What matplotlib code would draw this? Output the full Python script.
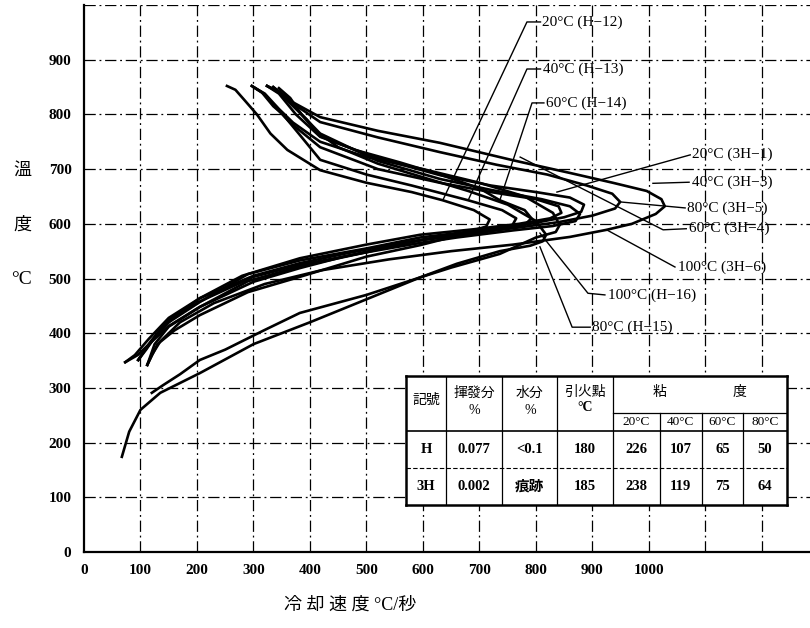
import numpy as np
import matplotlib.pyplot as plt

plt.rcParams['font.family'] = ['Liberation Serif', 'Noto Sans CJK JP']

# cooling curves: rate (°C/s) vs temperature (°C), from 850 °C through the nose back down
h12_rate = [253, 268, 285, 306, 330, 360, 418, 500, 580, 635, 690, 718, 712, 680, 620, 540, 460, 382, 300, 205, 150, 115, 95, 73]
h12_temp = [852, 845, 825, 800, 765, 735, 698, 675, 658, 643, 625, 608, 595, 585, 575, 558, 540, 519, 494, 448, 413, 380, 360, 347]

h13_rate = [297, 315, 335, 352, 380, 418, 500, 580, 680, 740, 765, 758, 720, 660, 595, 500, 382, 290, 205, 160, 130, 112]
h13_temp = [852, 840, 815, 800, 765, 717, 690, 670, 643, 625, 610, 597, 588, 578, 561, 540, 503, 475, 433, 405, 380, 342]

h14_rate = [324, 345, 370, 395, 418, 480, 560, 630, 700, 736, 780, 792, 780, 740, 680, 595, 500, 382, 300, 205, 150, 118, 96]
h14_temp = [852, 840, 815, 790, 760, 735, 712, 690, 665, 643, 625, 610, 598, 590, 580, 570, 548, 525, 503, 458, 425, 385, 351]

h15_rate = [345, 365, 385, 410, 450, 520, 600, 680, 750, 800, 818, 812, 790, 736, 660, 595, 500, 382, 318, 250, 205, 170, 140, 120]
h15_temp = [848, 830, 800, 770, 740, 710, 685, 660, 635, 605, 580, 568, 560, 550, 527, 502, 470, 437, 405, 370, 351, 325, 305, 291]

h16_rate = [300, 320, 345, 370, 418, 500, 600, 700, 780, 830, 842, 835, 800, 736, 650, 595, 500, 400, 300, 205, 135, 100, 80, 67]
h16_temp = [850, 838, 810, 785, 750, 722, 700, 675, 650, 620, 598, 585, 575, 545, 520, 502, 462, 420, 380, 327, 291, 260, 220, 174]

h3_1_rate = [297, 318, 340, 365, 418, 520, 630, 720, 800, 840, 845, 825, 770, 690, 595, 500, 382, 280, 205, 150, 115, 90, 73]
h3_1_temp = [852, 838, 812, 785, 740, 700, 675, 658, 645, 632, 620, 610, 600, 590, 580, 562, 537, 505, 464, 428, 390, 360, 347]

h3_3_rate = [324, 345, 375, 418, 520, 630, 720, 800, 860, 885, 880, 850, 790, 700, 595, 500, 382, 290, 205, 150, 120, 105, 96]
h3_3_temp = [852, 838, 800, 759, 720, 689, 670, 658, 648, 635, 622, 612, 600, 588, 575, 555, 533, 508, 457, 420, 385, 365, 351]

h3_4_rate = [335, 360, 385, 418, 520, 630, 720, 810, 860, 878, 870, 830, 760, 660, 595, 500, 382, 290, 205, 150, 125, 112]
h3_4_temp = [850, 830, 800, 765, 715, 682, 662, 645, 632, 618, 605, 596, 588, 575, 565, 548, 522, 495, 448, 412, 380, 342]

h3_5_rate = [335, 370, 418, 520, 630, 730, 820, 890, 935, 949, 940, 900, 840, 760, 660, 560, 460, 382, 300, 205, 160, 130, 110, 96]
h3_5_temp = [850, 820, 786, 758, 731, 708, 690, 670, 655, 640, 628, 615, 603, 592, 580, 565, 545, 528, 505, 464, 430, 400, 370, 351]

h3_6_rate = [324, 345, 370, 418, 520, 630, 760, 860, 936, 996, 1022, 1028, 1012, 970, 925, 860, 760, 650, 540, 420, 320, 230, 170, 135, 120, 112]
h3_6_temp = [852, 842, 822, 795, 770, 748, 716, 693, 675, 660, 645, 632, 618, 600, 589, 576, 562, 550, 535, 515, 490, 455, 420, 385, 360, 342]

curves_rate = [h12_rate, h13_rate, h14_rate, h15_rate, h16_rate,
               h3_1_rate, h3_3_rate, h3_4_rate, h3_5_rate, h3_6_rate]
curves_temp = [h12_temp, h13_temp, h14_temp, h15_temp, h16_temp,
               h3_1_temp, h3_3_temp, h3_4_temp, h3_5_temp, h3_6_temp]

# curve labels with leader lines (label anchor, then leader path)
labels = ['20°C (H−12)', '40°C (H−13)', '60°C (H−14)',
          '20°C (3H−1)', '40°C (3H−3)', '80°C (3H−5)', '60°C (3H−4)', '100°C (3H−6)',
          '100°C (H−16)', '80°C (H−15)']
label_pos = [(810, 969), (812, 883), (818, 821),
             (1076, 728), (1076, 676), (1068, 629), (1071, 591), (1052, 521),
             (928, 470), (900, 411)]
leader_x = [[808, 784, 635], [808, 784, 680], [814, 793, 736],
            [1073, 837], [1071, 1007], [1064, 949], [1066, 1025, 772], [1046, 925],
            [922, 892, 807], [896, 864, 807]]
leader_y = [[969, 969, 643], [883, 883, 643], [821, 821, 643],
            [726, 658], [676, 674], [629, 640], [591, 589, 722], [521, 589],
            [470, 473, 583], [411, 411, 558]]

# property table
table_marks = ['H', '3H']
volatile = ['0.077', '0.002']
water = ['<0.1', '痕跡']
flash = ['180', '185']
visc_temps = ['20°C', '40°C', '60°C', '80°C']
visc_h = ['226', '107', '65', '50']
visc_3h = ['238', '119', '75', '64']

fig = plt.figure(figsize=(8.1, 6.28), dpi=100)
ax = fig.add_axes([84 / 810, 1 - 552 / 628, 1 - 84 / 810, 547 / 628])
ax.set_xlim(0, 1285)
ax.set_ylim(0, 1000)

grid_ls = (0, (9, 3, 1.5, 3))
for gx in range(100, 1300, 100):
    ax.axvline(gx, color='black', lw=0.9, ls=grid_ls, zorder=1)
for gy in range(100, 1001, 100):
    ax.axhline(gy, color='black', lw=0.9, ls=grid_ls, zorder=1)

for r, t in zip(curves_rate, curves_temp):
    ax.plot(r, t, color='black', lw=1.9, solid_joinstyle='round', zorder=3)

for lab, (lx, ly), px, py in zip(labels, label_pos, leader_x, leader_y):
    ax.plot(px, py, color='black', lw=1.0, zorder=3)
    ax.text(lx, ly, lab, fontsize=11, va='center', ha='left', zorder=4)

for s in ['top', 'right']:
    ax.spines[s].set_visible(False)
for s in ['left', 'bottom']:
    ax.spines[s].set_linewidth(1.6)

ax.set_xticks(range(0, 1001, 100))
ax.set_yticks(range(0, 901, 100))
ax.tick_params(length=0, labelsize=11, pad=9)
for t in ax.get_xticklabels() + ax.get_yticklabels():
    t.set_fontweight('bold')

# axis titles
fig.text(22 / 810, 1 - 170 / 628, '溫', fontsize=13, ha='center', va='center')
fig.text(22 / 810, 1 - 225 / 628, '度', fontsize=13, ha='center', va='center')
fig.text(22 / 810, 1 - 280 / 628, '°C', fontsize=14, ha='center', va='center')
fig.text(350 / 810, 1 - 605 / 628, '冷 却 速 度 °C/秒', fontsize=13, ha='center', va='center')

# inset table (drawn in its own pixel-like frame)
tab = ax.inset_axes([570, 86, 674, 236], transform=ax.transData, zorder=5)
tab.set_xlim(406, 787)
tab.set_ylim(505, 376)
tab.set_xticks([])
tab.set_yticks([])
for s in tab.spines.values():
    s.set_linewidth(1.8)

cols = [406, 446, 502, 557, 613, 660, 702, 743, 787]
for c in cols[1:-1]:
    tab.plot([c, c], [376 if c <= 613 else 413, 505], color='black', lw=0.9)
tab.plot([613, 787], [413, 413], color='black', lw=0.9)
tab.plot([406, 787], [431, 431], color='black', lw=1.2)
tab.plot([406, 787], [468, 468], color='black', lw=0.8, ls=(0, (4, 2)))

fs = 10
tab.text(426, 401, '記號', fontsize=fs, ha='center', va='center')
tab.text(474, 393, '揮發分', fontsize=fs, ha='center', va='center')
tab.text(474, 411, '%', fontsize=fs, ha='center', va='center')
tab.text(530, 393, '水分', fontsize=fs, ha='center', va='center')
tab.text(530, 411, '%', fontsize=fs, ha='center', va='center')
tab.text(585, 393, '引火點', fontsize=fs, ha='center', va='center')
tab.text(585, 408, '°C', fontsize=fs, ha='center', va='center', fontweight='bold')
tab.text(660, 393, '粘', fontsize=fs, ha='center', va='center')
tab.text(740, 393, '度', fontsize=fs, ha='center', va='center')

centers = [(cols[i] + cols[i + 1]) / 2 for i in range(len(cols) - 1)]
for i, vt in enumerate(visc_temps):
    tab.text(centers[4 + i], 422, vt, fontsize=9.5, ha='center', va='center')

row_y = [450, 487]
visc_rows = [visc_h, visc_3h]
for k in range(2):
    vals = [table_marks[k], volatile[k], water[k], flash[k]] + visc_rows[k]
    for i, v in enumerate(vals):
        tab.text(centers[i], row_y[k], v, fontsize=fs + 0.5, ha='center', va='center', fontweight='bold')

fig.savefig('out.png', dpi=100)
